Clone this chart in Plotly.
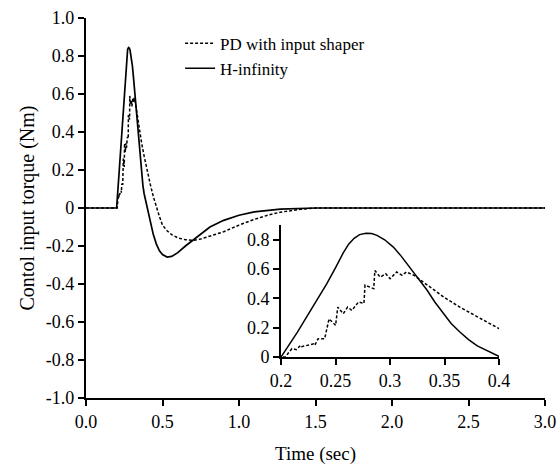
import plotly.graph_objects as go

# H-infinity control torque
t_hinf = [0.0, 0.2, 0.215, 0.227, 0.242, 0.25, 0.257, 0.262, 0.267, 0.272,
          0.278, 0.283, 0.288, 0.295, 0.303, 0.31, 0.318, 0.326, 0.334, 0.341,
          0.349, 0.356, 0.364, 0.372, 0.38, 0.39, 0.4, 0.42, 0.44, 0.46,
          0.48, 0.5, 0.53, 0.56, 0.6, 0.65, 0.69, 0.75, 0.81, 0.9,
          1.0, 1.1, 1.27, 1.5, 3.0]
u_hinf = [0.0, 0.0, 0.17, 0.318, 0.5, 0.61, 0.71, 0.77, 0.81, 0.835,
          0.845, 0.842, 0.83, 0.8, 0.75, 0.69, 0.614, 0.535, 0.455, 0.375,
          0.295, 0.228, 0.17, 0.118, 0.075, 0.037, 0.0, -0.075, -0.14, -0.19,
          -0.225, -0.245, -0.258, -0.255, -0.235, -0.2, -0.175, -0.135, -0.1, -0.065,
          -0.038, -0.02, -0.006, 0.0, 0.0]

# PD with input shaper (staircase in the first 0.1 s)
t_pd = [0.0, 0.2, 0.204, 0.207, 0.21, 0.214, 0.218, 0.219, 0.23, 0.231,
        0.234, 0.24, 0.244, 0.25, 0.252, 0.257, 0.261, 0.265, 0.268, 0.271,
        0.276, 0.277, 0.285, 0.286, 0.291, 0.296, 0.3, 0.306, 0.311, 0.315,
        0.322, 0.334, 0.349, 0.364, 0.38, 0.4, 0.42, 0.44, 0.46, 0.48,
        0.5, 0.53, 0.56, 0.6, 0.65, 0.7, 0.75, 0.81, 0.9, 1.0,
        1.1, 1.2, 1.27, 1.4, 1.5, 3.0]
u_pd = [0.0, 0.0, 0.0, 0.03, 0.057, 0.05, 0.08, 0.07, 0.09, 0.08,
        0.125, 0.125, 0.26, 0.216, 0.34, 0.295, 0.34, 0.318, 0.35, 0.375,
        0.365, 0.49, 0.466, 0.59, 0.545, 0.568, 0.534, 0.58, 0.557, 0.58,
        0.557, 0.49, 0.41, 0.34, 0.273, 0.193, 0.125, 0.06, 0.0, -0.045,
        -0.09, -0.12, -0.14, -0.157, -0.167, -0.17, -0.163, -0.148, -0.125, -0.09,
        -0.06, -0.035, -0.022, -0.007, 0.0, 0.0]

main_xticks = [0.0, 0.5, 1.0, 1.5, 2.0, 2.5, 3.0]
main_xlabels = ["0.0", "0.5", "1.0", "1.5", "2.0", "2.5", "3.0"]
main_yticks = [1.0, 0.8, 0.6, 0.4, 0.2, 0.0, -0.2, -0.4, -0.6, -0.8, -1.0]
main_ylabels = ["1.0", "0.8", "0.6", "0.4", "0.2", "0", "-0.2", "-0.4", "-0.6", "-0.8", "-1.0"]
inset_xticks = [0.2, 0.25, 0.3, 0.35, 0.4]
inset_xlabels = ["0.2", "0.25", "0.3", "0.35", "0.4"]
inset_yticks = [0, 0.2, 0.4, 0.6, 0.8]
inset_ylabels = ["0", "0.2", "0.4", "0.6", "0.8"]

FONT = "Liberation Serif, Times New Roman, serif"
dash = "3px,2px"

fig = go.Figure()
fig.add_trace(go.Scatter(x=t_pd, y=u_pd, mode="lines", name="PD with input shaper",
                         line=dict(color="black", width=1.5, dash=dash)))
fig.add_trace(go.Scatter(x=t_hinf, y=u_hinf, mode="lines", name="H-infinity",
                         line=dict(color="black", width=1.7)))
# inset
fig.add_trace(go.Scatter(x=t_pd, y=u_pd, mode="lines", showlegend=False,
                         line=dict(color="black", width=1.5, dash=dash),
                         xaxis="x2", yaxis="y2"))
fig.add_trace(go.Scatter(x=t_hinf, y=u_hinf, mode="lines", showlegend=False,
                         line=dict(color="black", width=1.5),
                         xaxis="x2", yaxis="y2"))

axis_common = dict(showgrid=False, zeroline=False, showline=True, linecolor="black",
                   linewidth=2.2, ticks="outside", ticklen=6, tickwidth=2.2, tickcolor="black",
                   automargin=False,
                   tickfont=dict(family=FONT, size=18, color="black"))

fig.update_layout(
    width=559, height=468,
    margin=dict(l=86, r=14, t=18, b=70),
    plot_bgcolor="white", paper_bgcolor="white",
    font=dict(family=FONT, size=18, color="black"),
    xaxis=dict(range=[0, 3], tickvals=main_xticks, ticktext=main_xlabels,
               title=dict(text="Time (sec)", font=dict(family=FONT, size=19), standoff=16),
               **axis_common),
    yaxis=dict(range=[-1, 1], tickvals=main_yticks, ticktext=main_ylabels,
               title=dict(text="Contol input torque (Nm)", font=dict(family=FONT, size=20), standoff=6),
               **axis_common),
    xaxis2=dict(domain=[0.425, 0.9], anchor="y2", range=[0.2, 0.4],
                tickvals=inset_xticks, ticktext=inset_xlabels, **axis_common),
    yaxis2=dict(domain=[0.108, 0.455], anchor="x2", range=[0, 0.9],
                tickvals=inset_yticks, ticktext=inset_ylabels, **axis_common),
    legend=dict(x=0.205, y=0.98, xanchor="left", yanchor="top",
                bgcolor="rgba(0,0,0,0)", borderwidth=0,
                font=dict(family=FONT, size=17), tracegroupgap=0),
    showlegend=True,
)

fig.write_html("out.html", config={"displayModeBar": False},
               post_script="document.body.style.margin='0';")
